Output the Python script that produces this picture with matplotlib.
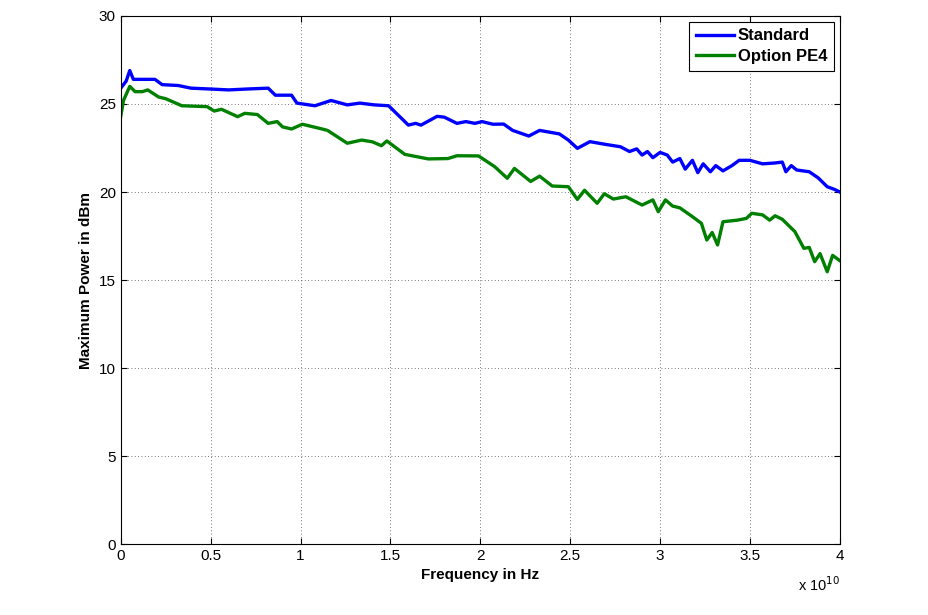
import matplotlib
matplotlib.use('Agg')
import matplotlib.pyplot as plt
from matplotlib.ticker import FuncFormatter
import numpy as np

plt.rcParams['font.family'] = ['Liberation Sans', 'DejaVu Sans']

# frequency in GHz, power in dBm
f_std = [0.0, 0.3, 0.5, 0.7, 1.9, 2.3, 3.2, 3.9, 5.0, 6.0, 7.0, 8.2, 8.6, 9.5, 9.8,
         10.8, 11.7, 12.6, 13.3, 14.1, 14.9, 15.6, 16.0, 16.4, 16.7, 17.6, 18.0, 18.7,
         19.2, 19.7, 20.1, 20.7, 21.3, 21.8, 22.7, 23.3, 24.4, 24.9, 25.4, 26.1, 27.0,
         27.8, 28.3, 28.7, 29.0, 29.3, 29.6, 30.0, 30.4, 30.7, 31.1, 31.4, 31.8, 32.1,
         32.4, 32.8, 33.1, 33.5, 34.0, 34.4, 35.0, 35.7, 36.4, 36.8, 37.0, 37.3, 37.6,
         38.3, 38.8, 39.3, 39.7, 40.0]
p_std = [25.9, 26.3, 26.9, 26.4, 26.4, 26.1, 26.05, 25.9, 25.85, 25.8, 25.85, 25.9,
         25.5, 25.5, 25.05, 24.9, 25.2, 24.95, 25.05, 24.95, 24.9, 24.2, 23.8, 23.9,
         23.8, 24.3, 24.25, 23.9, 24.0, 23.9, 24.0, 23.85, 23.86, 23.5, 23.18, 23.5,
         23.3, 22.95, 22.48, 22.86, 22.7, 22.57, 22.3, 22.45, 22.1, 22.3, 21.95, 22.25,
         22.1, 21.7, 21.9, 21.3, 21.8, 21.1, 21.6, 21.15, 21.5, 21.2, 21.5, 21.8, 21.8,
         21.6, 21.65, 21.7, 21.15, 21.5, 21.25, 21.15, 20.8, 20.3, 20.15, 20.0]

f_pe4 = [0.0, 0.15, 0.5, 0.8, 1.2, 1.5, 2.1, 2.5, 3.4, 4.8, 5.2, 5.6, 6.5, 6.9, 7.6,
         8.2, 8.7, 9.0, 9.5, 10.1, 11.2, 11.5, 12.6, 13.4, 14.0, 14.5, 14.8, 15.8,
         17.1, 18.2, 18.7, 19.9, 20.8, 21.5, 21.9, 22.8, 23.3, 24.0, 24.9, 25.4, 25.8,
         26.5, 26.9, 27.4, 28.1, 29.0, 29.6, 29.9, 30.3, 30.7, 31.1, 31.8, 32.3, 32.6,
         32.9, 33.2, 33.5, 34.3, 34.8, 35.1, 35.7, 36.1, 36.4, 36.8, 37.5, 38.0, 38.3,
         38.6, 38.9, 39.3, 39.6, 40.0]
p_pe4 = [24.3, 25.2, 26.0, 25.7, 25.7, 25.8, 25.4, 25.3, 24.9, 24.85, 24.6, 24.7,
         24.28, 24.47, 24.4, 23.9, 24.0, 23.7, 23.58, 23.85, 23.58, 23.5, 22.77, 22.95,
         22.85, 22.63, 22.9, 22.14, 21.88, 21.9, 22.06, 22.05, 21.44, 20.78, 21.34,
         20.6, 20.9, 20.34, 20.3, 19.58, 20.1, 19.36, 19.9, 19.6, 19.73, 19.26, 19.55,
         18.88, 19.55, 19.2, 19.1, 18.6, 18.22, 17.27, 17.7, 16.99, 18.31, 18.4, 18.5,
         18.79, 18.7, 18.4, 18.65, 18.45, 17.75, 16.8, 16.85, 16.04, 16.5, 15.47, 16.4,
         16.1]

x_ticks = [0, 0.5, 1, 1.5, 2, 2.5, 3, 3.5, 4]
y_ticks = [0, 5, 10, 15, 20, 25, 30]

fig = plt.figure(figsize=(9.29, 6.15), dpi=100)
ax = fig.add_axes([0.130, 0.1154, 0.774, 0.8586])

ax.plot(np.array(f_std) * 1e9, p_std, color='#0000FF', lw=2.4, label='Standard')
ax.plot(np.array(f_pe4) * 1e9, p_pe4, color='#008000', lw=2.4, label='Option PE4')

ax.set_xlim(0, 4e10)
ax.set_ylim(0, 30)
ax.set_xticks([t * 1e10 for t in x_ticks])
ax.xaxis.set_major_formatter(FuncFormatter(lambda v, pos: '%g' % (v / 1e10)))
ax.set_yticks(y_ticks)
ax.tick_params(direction='in', length=4, labelsize=11, top=True, right=True)
ax.grid(True, color='black', linestyle=(0, (1, 3)), linewidth=0.6, alpha=0.7)
for s in ax.spines.values():
    s.set_linewidth(0.8)

ax.set_xlabel('Frequency in Hz', fontsize=11, fontweight='bold', labelpad=4)
ax.set_ylabel('Maximum Power in dBm', fontsize=11, fontweight='bold')
ax.text(1.0, -0.06, r'x 10$^{10}$', transform=ax.transAxes, ha='right', va='top', fontsize=10.5)

leg = ax.legend(loc='upper right', fancybox=False, framealpha=1, edgecolor='black',
                prop={'weight': 'bold', 'size': 12}, handlelength=2.3,
                handletextpad=0.2, borderaxespad=0.35, borderpad=0.4, labelspacing=0.35)
leg.get_frame().set_linewidth(0.8)

fig.savefig('out.png', dpi=100)
